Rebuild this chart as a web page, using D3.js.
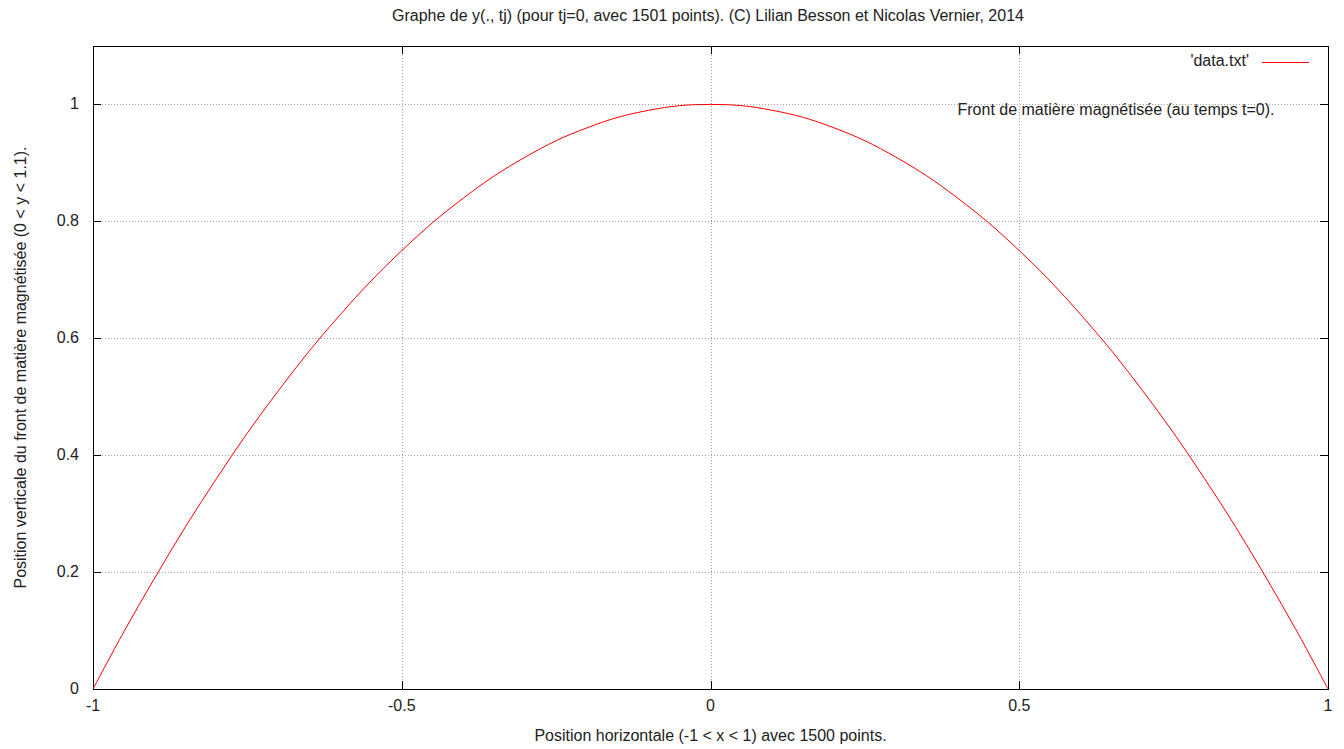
<!DOCTYPE html>
<html><head><meta charset="utf-8">
<script src="https://cdn.jsdelivr.net/npm/d3@7"></script>
<style>
body{margin:0;background:#fff;}
text{font-family:"Liberation Sans",Arial,sans-serif;font-size:16px;fill:#222;}
</style></head>
<body><svg id="c" width="1344" height="749"></svg>
<script>
const xValues = [-1,-0.95,-0.9,-0.85,-0.8,-0.75,-0.7,-0.65,-0.6,-0.55,-0.5,-0.45,-0.4,-0.35,-0.3,-0.25,-0.2,-0.15,-0.1,-0.05,0,0.05,0.1,0.15,0.2,0.25,0.3,0.35,0.4,0.45,0.5,0.55,0.6,0.65,0.7,0.75,0.8,0.85,0.9,0.95,1];
const yValues = [0,0.098,0.19,0.278,0.36,0.438,0.51,0.578,0.64,0.698,0.75,0.798,0.84,0.878,0.91,0.938,0.96,0.978,0.99,0.998,1,0.998,0.99,0.978,0.96,0.938,0.91,0.878,0.84,0.798,0.75,0.698,0.64,0.578,0.51,0.438,0.36,0.278,0.19,0.098,0];
const xTicks = [-1,-0.5,0,0.5,1];
const xTickLabels = ["-1","-0.5","0","0.5","1"];
const yTicks = [0,0.2,0.4,0.6,0.8,1];
const yTickLabels = ["0","0.2","0.4","0.6","0.8","1"];
const titleText = "Graphe de y(., tj) (pour tj=0, avec 1501 points). (C) Lilian Besson et Nicolas Vernier, 2014";
const xLabelText = "Position horizontale (-1 < x < 1) avec 1500 points.";
const yLabelText = "Position verticale du front de matière magnétisée (0 < y < 1.1).";
const legendText = "'data.txt'";
const noteText = "Front de matière magnétisée (au temps t=0).";

const svg = d3.select("#c");
const L=93, R=1328, T=46, B=689;
const x = d3.scaleLinear().domain([-1,1]).range([L,R]);
const y = d3.scaleLinear().domain([0,1.1]).range([B,T]);

// grid
const g = svg.append("g");
g.selectAll(".gx").data(xTicks.filter(d=>d>-1&&d<1)).join("line")
 .attr("x1",d=>Math.round(x(d))+0.5).attr("x2",d=>Math.round(x(d))+0.5).attr("y1",T).attr("y2",B)
 .attr("stroke","#a0a0a0").attr("stroke-dasharray","1,2");
g.selectAll(".gy").data(yTicks.filter(d=>d>0)).join("line")
 .attr("y1",d=>Math.round(y(d))+0.5).attr("y2",d=>Math.round(y(d))+0.5).attr("x1",L).attr("x2",R)
 .attr("stroke","#a0a0a0").attr("stroke-dasharray","1,2");

// ticks (inward, mirrored)
const tk = svg.append("g").attr("stroke","#000");
xTicks.forEach(d=>{
  const px=Math.round(x(d))+0.5;
  tk.append("line").attr("x1",px).attr("x2",px).attr("y1",B).attr("y2",B-8);
  tk.append("line").attr("x1",px).attr("x2",px).attr("y1",T).attr("y2",T+8);
});
yTicks.forEach(d=>{
  const py=Math.round(y(d))+0.5;
  tk.append("line").attr("x1",L).attr("x2",L+8).attr("y1",py).attr("y2",py);
  tk.append("line").attr("x1",R).attr("x2",R-8).attr("y1",py).attr("y2",py);
});

// tick labels
svg.selectAll(".xl").data(xTicks).join("text")
 .attr("x",d=>x(d)).attr("y",B+22).attr("text-anchor","middle").text((d,i)=>xTickLabels[i]);
svg.selectAll(".yl").data(yTicks).join("text")
 .attr("x",L-14).attr("y",d=>y(d)+5).attr("text-anchor","end").text((d,i)=>yTickLabels[i]);

// border
svg.append("rect").attr("x",L+0.5).attr("y",T+0.5).attr("width",R-L).attr("height",B-T)
 .attr("fill","none").attr("stroke","#000");

// curve
const pts = xValues.map((v,i)=>[v,yValues[i]]);
svg.append("path").datum(pts)
 .attr("d",d3.line().x(d=>x(d[0])).y(d=>y(d[1])).curve(d3.curveCatmullRom))
 .attr("fill","none").attr("stroke","#ff0000").attr("stroke-width",1);

// legend
svg.append("text").attr("x",1249).attr("y",66).attr("text-anchor","end").text(legendText);
svg.append("line").attr("x1",1262).attr("x2",1309).attr("y1",62.5).attr("y2",62.5).attr("stroke","#ff0000");

// note label
svg.append("text").attr("x",x(0.4)).attr("y",y(0.99)+5).text(noteText);

// titles
svg.append("text").attr("x",708).attr("y",21).attr("text-anchor","middle").text(titleText);
svg.append("text").attr("x",(L+R)/2).attr("y",741).attr("text-anchor","middle").text(xLabelText);
svg.append("text").attr("transform",`translate(26,${(T+B)/2}) rotate(-90)`).attr("text-anchor","middle").text(yLabelText);
</script></body></html>
